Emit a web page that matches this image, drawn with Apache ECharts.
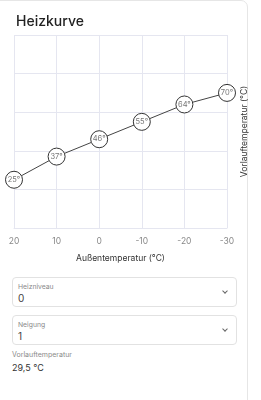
<!DOCTYPE html>
<html>
<head>
<meta charset="utf-8">
<script src="https://cdn.jsdelivr.net/npm/echarts@6/dist/echarts.min.js"></script>
<style>
html,body{margin:0;padding:0;width:261px;height:400px;overflow:hidden;background:#fff;font-family:Inter,"Noto Sans",sans-serif;}
#card{position:absolute;left:-10px;top:0;width:258px;height:420px;border:1px solid #e6e6e6;border-radius:7px;box-sizing:border-box;}
#chart{position:absolute;left:0;top:0;width:261px;height:268px;}
.field{position:absolute;left:12px;width:225px;height:30px;border:1px solid #e2e2e2;border-radius:4px;box-sizing:border-box;}
.field .lab{position:absolute;left:5px;top:4px;font-size:6.8px;color:#8a8a8a;}
.field .val{position:absolute;left:5px;top:14px;font-size:10px;color:#444;}
.field .chev{position:absolute;right:9px;top:11px;width:3px;height:3px;border-right:1px solid #666;border-bottom:1px solid #666;transform:rotate(45deg);}
.small{position:absolute;left:12px;font-size:7px;color:#8a8a8a;}
.big{position:absolute;left:12px;font-size:9px;color:#333;}
</style>
</head>
<body>
<div id="card"></div>
<div id="chart"></div>
<div class="field" style="top:277px"><div class="lab">Heizniveau</div><div class="val">0</div><div class="chev"></div></div>
<div class="field" style="top:315px"><div class="lab">Neigung</div><div class="val">1</div><div class="chev"></div></div>
<div class="small" style="top:350px">Vorlauftemperatur</div>
<div class="big" style="top:362px">29,5 °C</div>
<script>
var outdoorTemps = [20, 10, 0, -10, -20, -30];
var flowTemps = [25, 37, 46, 55, 64, 70];

var data = outdoorTemps.map(function (t, i) { return [t, flowTemps[i]]; });
var gridColor = '#e5e6f0';
var chart = echarts.init(document.getElementById('chart'), null, {renderer: 'canvas'});
chart.setOption({
  animation: false,
  textStyle: {fontFamily: 'Inter'},
  title: {
    text: 'Heizkurve', left: 11, top: 10,
    textStyle: {fontSize: 14, fontWeight: 500, color: '#222', fontFamily: 'Inter'}
  },
  grid: {left: 14, right: 34, top: 35, bottom: 39},
  xAxis: {
    type: 'value', inverse: true, min: -30, max: 20, interval: 10,
    name: 'Außentemperatur (°C)', nameLocation: 'middle', nameGap: 26,
    nameTextStyle: {fontSize: 8.5, color: '#333', fontFamily: 'Inter'},
    axisLine: {show: true, lineStyle: {color: gridColor}},
    axisTick: {show: false},
    axisLabel: {color: '#888', fontSize: 8.5, margin: 9},
    splitLine: {show: true, lineStyle: {color: gridColor}}
  },
  yAxis: {
    type: 'value', position: 'right', min: 0, max: 100, interval: 20,
    name: 'Vorlauftemperatur (°C)', nameLocation: 'middle', nameGap: 13, nameRotate: 90,
    nameTextStyle: {fontSize: 8.5, color: '#333', fontFamily: 'Inter'},
    axisLine: {show: false}, axisTick: {show: false}, axisLabel: {show: false},
    splitLine: {show: true, lineStyle: {color: gridColor}}
  },
  series: [{
    type: 'line', data: data,
    symbol: 'circle', symbolSize: 17,
    itemStyle: {color: '#fff', borderColor: '#333', borderWidth: 1},
    lineStyle: {color: '#444', width: 1},
    label: {show: true, position: 'inside', formatter: function (p) { return p.value[1] + '°'; },
      color: '#777', fontSize: 7.5, fontFamily: 'Inter'}
  }]
});
</script>
</body>
</html>
